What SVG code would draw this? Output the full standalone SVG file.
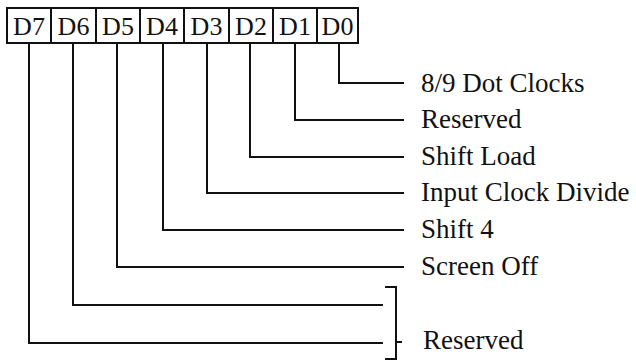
<svg xmlns="http://www.w3.org/2000/svg" width="636" height="361" viewBox="0 0 636 361">
<style>
.cell{fill:#fff;stroke:#111;stroke-width:2}
.bit{font-family:"Liberation Serif","Times New Roman",serif;font-size:26px;fill:#111;text-anchor:middle}
.lbl{font-family:"Liberation Serif","Times New Roman",serif;font-size:27px;fill:#111}
.wire{fill:none;stroke:#111;stroke-width:2}
</style>
<rect width="636" height="361" fill="#fff"/>
<g id="register">
<g id="D7"><rect class="cell" x="7" y="8" width="44" height="35"/><text class="bit" x="29" y="35">D7</text></g>
<g id="D6"><rect class="cell" x="51" y="8" width="45" height="35"/><text class="bit" x="73.5" y="35">D6</text></g>
<g id="D5"><rect class="cell" x="96" y="8" width="44" height="35"/><text class="bit" x="118" y="35">D5</text></g>
<g id="D4"><rect class="cell" x="140" y="8" width="44" height="35"/><text class="bit" x="162" y="35">D4</text></g>
<g id="D3"><rect class="cell" x="184" y="8" width="45" height="35"/><text class="bit" x="206.5" y="35">D3</text></g>
<g id="D2"><rect class="cell" x="229" y="8" width="44" height="35"/><text class="bit" x="251" y="35">D2</text></g>
<g id="D1"><rect class="cell" x="273" y="8" width="44" height="35"/><text class="bit" x="295" y="35">D1</text></g>
<g id="D0"><rect class="cell" x="317" y="8" width="41" height="35"/><text class="bit" x="337.5" y="35">D0</text></g>
</g>
<g id="connectors">
<path class="wire" d="M339 43V83H404"/>
<path class="wire" d="M295 43V120H404"/>
<path class="wire" d="M250 43V157H404"/>
<path class="wire" d="M207 43V193H404"/>
<path class="wire" d="M163 43V230H404"/>
<path class="wire" d="M117 43V267H404"/>
<path class="wire" d="M73 43V305H383"/>
<path class="wire" d="M29 43V343H383"/>
<path class="wire" d="M385 287H396V359H385M396 342H402"/>
</g>
<g id="labels">
<text class="lbl" x="421" y="92">8/9 Dot Clocks</text>
<text class="lbl" x="421" y="128">Reserved</text>
<text class="lbl" x="421" y="165">Shift Load</text>
<text class="lbl" x="421" y="201">Input Clock Divide</text>
<text class="lbl" x="421" y="238">Shift 4</text>
<text class="lbl" x="421" y="275">Screen Off</text>
<text class="lbl" x="423" y="349">Reserved</text>
</g>
</svg>
